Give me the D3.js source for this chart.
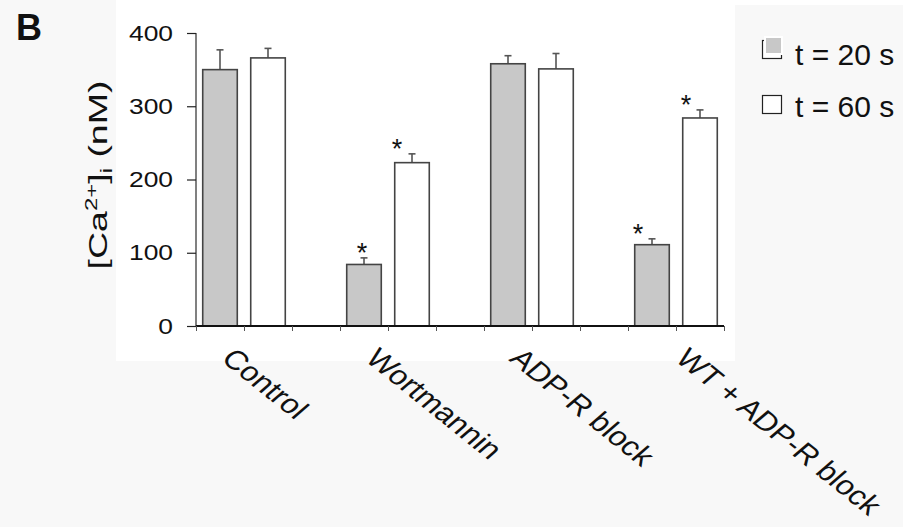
<!DOCTYPE html>
<html><head><meta charset="utf-8">
<script src="https://cdn.jsdelivr.net/npm/d3@7"></script>
<style>
body{margin:0;background:#f7f7f7;}
svg{display:block;font-family:Arial,"Liberation Sans",sans-serif;}
</style>
</head><body>
<svg id="chart" width="903" height="527"></svg>
<script>
// ---- data ----
const categories = ["Control", "Wortmannin", "ADP-R block", "WT + ADP-R block"];
const seriesNames = ["t = 20 s", "t = 60 s"];
const values20 = [350, 84, 358, 111];
const errors20 = [27, 9, 11, 8];
const values60 = [366, 223, 351, 284];
const errors60 = [13, 12, 21, 11];
const signif20 = [false, true, false, true];
const signif60 = [false, true, false, true];
const yTicks = [0, 100, 200, 300, 400];
const yLabel = {main: "[Ca", sup: "2+", close: "]", sub: "i", unit: " (nM)"};
const panelLetter = "B";

// ---- styles ----
const fills = ["#c8c8c8", "#ffffff"];
const starShift = [[0, 0], [-2, -15], [0, 0], [-14, -14]];
const labelShift = [0, 0, 0, 22];

const svg = d3.select("#chart");
const W = 903, H = 527;
const plot = {left: 196, right: 724, top: 33, bottom: 326};

// backgrounds
svg.append("rect").attr("x", 0).attr("y", 0).attr("width", W).attr("height", H).attr("fill", "#f8f8f8");
svg.append("rect").attr("x", 116).attr("y", 0).attr("width", 619).attr("height", 361).attr("fill", "#ffffff");
svg.append("rect").attr("x", 116).attr("y", 0).attr("width", W - 116).attr("height", 5).attr("fill", "#ffffff");

// slots: two bars per category and an empty slot between groups
const slots = [];
categories.forEach((c, i) => {
  slots.push(i + "|0", i + "|1");
  if (i < categories.length - 1) slots.push(i + "|gap");
});

const x = d3.scaleBand().domain(slots).range([plot.left, plot.right]).paddingInner(0.28).paddingOuter(0.14);
const xEdge = d3.scaleLinear().domain([0, slots.length]).range([plot.left, plot.right]);
const y = d3.scaleLinear().domain([0, 400]).range([plot.bottom, plot.top]);

// bars data
const bars = [];
categories.forEach((c, i) => {
  bars.push({cat: i, s: 0, v: values20[i], e: errors20[i], sig: signif20[i]});
  bars.push({cat: i, s: 1, v: values60[i], e: errors60[i], sig: signif60[i]});
});

// error bars (upward only)
const eg = svg.append("g").attr("stroke", "#555").attr("stroke-width", 1.6);
bars.forEach(d => {
  const cx = x(d.cat + "|" + d.s) + x.bandwidth() / 2;
  eg.append("line").attr("x1", cx).attr("x2", cx).attr("y1", y(d.v)).attr("y2", y(d.v + d.e));
  eg.append("line").attr("x1", cx - 3.5).attr("x2", cx + 3.5).attr("y1", y(d.v + d.e)).attr("y2", y(d.v + d.e));
});

// bars
svg.append("g").selectAll("rect").data(bars).join("rect")
  .attr("x", d => x(d.cat + "|" + d.s))
  .attr("y", d => y(d.v))
  .attr("width", x.bandwidth())
  .attr("height", d => y(0) - y(d.v))
  .attr("fill", d => fills[d.s])
  .attr("stroke", "#444")
  .attr("stroke-width", 1.6);

// significance stars
svg.append("g").selectAll("text").data(bars.filter(d => d.sig)).join("text")
  .attr("x", d => x(d.cat + "|" + d.s) + x.bandwidth() / 2 + starShift[d.cat][d.s])
  .attr("y", d => y(d.v + d.e) + 4)
  .attr("text-anchor", "middle")
  .attr("font-size", 27)
  .attr("fill", "#111")
  .text("*");

// y axis
const yAxis = svg.append("g").attr("transform", `translate(${plot.left},0)`)
  .call(d3.axisLeft(y).tickValues(yTicks).tickSize(9).tickPadding(14));
yAxis.select(".domain").attr("stroke", "#808080").attr("stroke-width", 2).attr("d", `M0,${plot.bottom}V${plot.top}`);
yAxis.selectAll(".tick line").attr("stroke", "#222").attr("stroke-width", 1.2);
yAxis.selectAll(".tick text").attr("font-size", 22).attr("fill", "#111").attr("font-family", "Arial, 'Liberation Sans', sans-serif")
  .each(function() {
    const t = d3.select(this);
    const xx = +t.attr("x");
    t.attr("x", 0).attr("transform", `translate(${xx},0) scale(1.2,1)`);
  });

// x axis
const xAxis = svg.append("g").attr("transform", `translate(0,${plot.bottom})`)
  .call(d3.axisBottom(xEdge).tickValues(d3.range(slots.length + 1)).tickSize(5).tickFormat(""));
xAxis.select(".domain").attr("stroke", "#111").attr("stroke-width", 2).attr("d", `M${plot.left},0H${plot.right}`);
xAxis.selectAll(".tick line").attr("stroke", "#555").attr("stroke-width", 1);

// category labels
svg.append("g").selectAll("text").data(categories).join("text")
  .attr("transform", (d, i) => {
    const cx = x(i + "|1") - (x.step() - x.bandwidth()) / 2;
    return `translate(${cx - 24 + labelShift[i]},${plot.bottom + 34}) scale(1.2,1) rotate(44)`;
  })
  .attr("font-size", 27)
  .attr("fill", "#111")
  .text(d => d);

// y label
const yl = svg.append("text")
  .attr("transform", `translate(107,175) rotate(-90) scale(1.5,1)`)
  .attr("text-anchor", "middle")
  .attr("font-size", 25)
  .attr("fill", "#111");
yl.append("tspan").text(yLabel.main);
yl.append("tspan").attr("font-size", 16).attr("dy", -10).text(yLabel.sup);
yl.append("tspan").attr("dy", 10).text(yLabel.close);
yl.append("tspan").attr("font-size", 16).attr("dy", 5).text(yLabel.sub);
yl.append("tspan").attr("dy", -5).text(yLabel.unit);

// panel letter
svg.append("text").attr("x", 16).attr("y", 40).attr("font-size", 36).attr("font-weight", "bold").attr("fill", "#111").text(panelLetter);

// legend
const lg = svg.append("g");
lg.append("rect").attr("x", 762.5).attr("y", 40.5).attr("width", 19).attr("height", 18).attr("fill", "#fff").attr("stroke", "#222").attr("stroke-width", 1.2);
lg.append("rect").attr("x", 765).attr("y", 37).attr("width", 17).attr("height", 17).attr("fill", fills[0]).attr("stroke", "#fff").attr("stroke-width", 2);
lg.append("rect").attr("x", 762.5).attr("y", 95.5).attr("width", 19).attr("height", 18).attr("fill", fills[1]).attr("stroke", "#222").attr("stroke-width", 1.2);
lg.selectAll("text.lt").data(seriesNames).join("text")
  .attr("class", "lt")
  .attr("x", 795)
  .attr("y", (d, i) => 65 + i * 52)
  .attr("font-size", 30)
  .attr("fill", "#111")
  .text(d => d);
</script>
</body></html>
